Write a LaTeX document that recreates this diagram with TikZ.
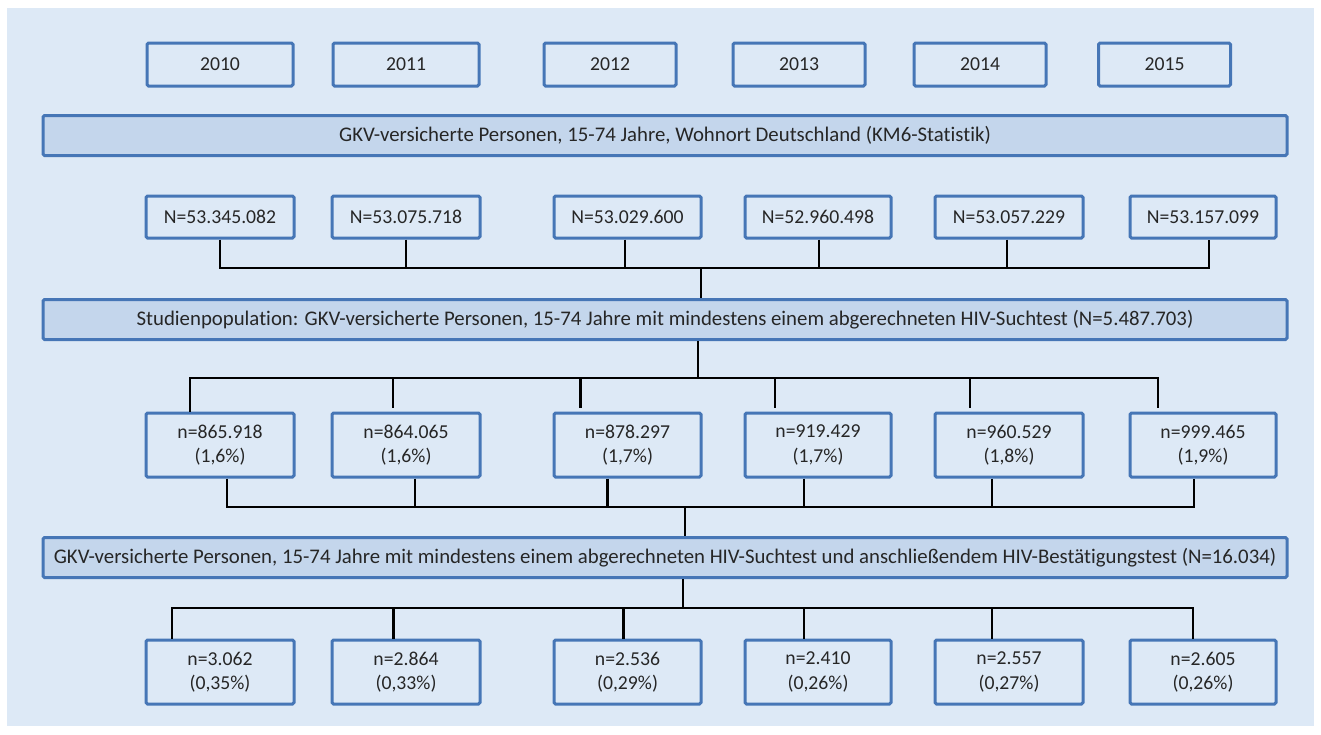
\documentclass[tikz,border=0pt]{standalone}
\usepackage{fontspec}
\setmainfont{Carlito}[Ligatures=NoCommon]
\definecolor{bgc}{RGB}{221,233,246}
\definecolor{bdr}{RGB}{70,118,182}
\definecolor{barc}{RGB}{196,214,236}
\begin{document}
\begin{tikzpicture}[x=1pt,y=-1pt,
  box/.style={draw=bdr, line width=3pt, rounded corners=1.5pt, inner sep=0pt,
    align=center, text=black!85, font=\fontsize{19.7}{24.5}\selectfont},
  ybox/.style={box, minimum height=43},
  nbox/.style={box, minimum height=42},
  pbox/.style={box, minimum height=64},
  bar/.style={box, fill=barc, minimum width=1244, minimum height=40, font=\fontsize{20.8}{24}\selectfont},
  wire/.style={line width=2.5pt, black}]
\useasboundingbox (0,0) rectangle (1321,734);
\fill[bgc] (7,8) rectangle (1314,726);

% year boxes
\node[ybox, minimum width=146] (y10) at (220,64.5) {2010};
\node[ybox, minimum width=146] (y11) at (406,64.5) {2011};
\node[ybox, minimum width=132] (y12) at (610,64.5) {2012};
\node[ybox, minimum width=132] (y13) at (799,64.5) {2013};
\node[ybox, minimum width=132] (y14) at (980,64.5) {2014};
\node[ybox, minimum width=132] (y15) at (1164.5,64.5) {2015};

\node[bar] (b1) at (665,135.5) {GKV-versicherte Personen, 15-74 Jahre, Wohnort Deutschland (KM6-Statistik)};

% N row
\node[nbox, minimum width=148] (a1) at (220,217) {N=53.345.082};
\node[nbox, minimum width=148] (a2) at (406,217) {N=53.075.718};
\node[nbox, minimum width=147] (a3) at (627.5,217) {N=53.029.600};
\node[nbox, minimum width=146] (a4) at (818,217) {N=52.960.498};
\node[nbox, minimum width=148] (a5) at (1009,217) {N=53.057.229};
\node[nbox, minimum width=146] (a6) at (1203,217) {N=53.157.099};

\node[bar] (b2) at (665,319.5) {Studienpopulation: GKV-versicherte Personen, 15-74 Jahre mit mindestens einem abgerechneten HIV-Suchtest (N=5.487.703)};

% n row
\node[pbox, minimum width=148] (n1) at (220,445) {n=865.918\\(1,6\%)};
\node[pbox, minimum width=148] (n2) at (406,445) {n=864.065\\(1,6\%)};
\node[pbox, minimum width=147] (n3) at (627.5,445) {n=878.297\\(1,7\%)};
\node[pbox, minimum width=146] (n4) at (818,445) {n=919.429\\(1,7\%)};
\node[pbox, minimum width=148] (n5) at (1009,445) {n=960.529\\(1,8\%)};
\node[pbox, minimum width=146] (n6) at (1203,445) {n=999.465\\(1,9\%)};

\node[bar] (b3) at (665,557.5) {GKV-versicherte Personen, 15-74 Jahre mit mindestens einem abgerechneten HIV-Suchtest und anschließendem HIV-Bestätigungstest (N=16.034)};

% bottom row
\node[pbox, minimum width=148] (m1) at (220,672) {n=3.062\\(0,35\%)};
\node[pbox, minimum width=148] (m2) at (406,672) {n=2.864\\(0,33\%)};
\node[pbox, minimum width=147] (m3) at (627.5,672) {n=2.536\\(0,29\%)};
\node[pbox, minimum width=146] (m4) at (818,672) {n=2.410\\(0,26\%)};
\node[pbox, minimum width=148] (m5) at (1009,672) {n=2.557\\(0,27\%)};
\node[pbox, minimum width=146] (m6) at (1203,672) {n=2.605\\(0,26\%)};

% junction coordinates
\coordinate (j1) at (701,268);
\coordinate (j2) at (698,378);
\coordinate (j3) at (685,507);
\coordinate (j4) at (683,608);

% N row -> bar 2
\draw[wire] (a1.south) -- (a1.south |- j1) -- ([xshift=6pt]a6.south |- j1) -- ([xshift=6pt]a6.south);
\draw[wire] (a2.south) -- (a2.south |- j1);
\draw[wire] ([xshift=-2.5pt]a3.south) -- ([xshift=-2.5pt]a3.south |- j1);
\draw[wire] ([xshift=1pt]a4.south) -- ([xshift=1pt]a4.south |- j1);
\draw[wire] ([xshift=-2pt]a5.south) -- ([xshift=-2pt]a5.south |- j1);
\draw[wire] (j1) -- (j1 |- b2.north);

% bar 2 -> n row
\draw[wire] (b2.south -| j2) -- (j2);
\draw[wire, shorten >=4pt] ([xshift=-30pt]n1.north) -- ([xshift=-30pt]n1.north |- j2) -- ([xshift=-45pt]n6.north |- j2) -- ([xshift=-45pt]n6.north);
\draw[wire, shorten >=4pt] ([xshift=-13pt]n2.north |- j2) -- ([xshift=-13pt]n2.north);
\draw[wire, shorten >=4pt] ([xshift=-47pt]n3.north |- j2) -- ([xshift=-47pt]n3.north);
\draw[wire, shorten >=4pt] ([xshift=-43pt]n4.north |- j2) -- ([xshift=-43pt]n4.north);
\draw[wire, shorten >=4pt] ([xshift=-39pt]n5.north |- j2) -- ([xshift=-39pt]n5.north);

% n row -> bar 3
\draw[wire] ([xshift=7pt]n1.south) -- ([xshift=7pt]n1.south |- j3) -- ([xshift=-9pt]n6.south |- j3) -- ([xshift=-9pt]n6.south);
\draw[wire] ([xshift=9pt]n2.south) -- ([xshift=9pt]n2.south |- j3);
\draw[wire] ([xshift=-20pt]n3.south) -- ([xshift=-20pt]n3.south |- j3);
\draw[wire] ([xshift=-14pt]n4.south) -- ([xshift=-14pt]n4.south |- j3);
\draw[wire] ([xshift=-17pt]n5.south) -- ([xshift=-17pt]n5.south |- j3);
\draw[wire] (j3) -- (j3 |- b3.north);

% bar 3 -> bottom row
\draw[wire] (b3.south -| j4) -- (j4);
\draw[wire] ([xshift=-48pt]m1.north) -- ([xshift=-48pt]m1.north |- j4) -- ([xshift=-10pt]m6.north |- j4) -- ([xshift=-10pt]m6.north);
\draw[wire] ([xshift=-12.5pt]m2.north |- j4) -- ([xshift=-12.5pt]m2.north);
\draw[wire] ([xshift=-4pt]m3.north |- j4) -- ([xshift=-4pt]m3.north);
\draw[wire] ([xshift=-14pt]m4.north |- j4) -- ([xshift=-14pt]m4.north);
\draw[wire] ([xshift=-17pt]m5.north |- j4) -- ([xshift=-17pt]m5.north);
\end{tikzpicture}
\end{document}
